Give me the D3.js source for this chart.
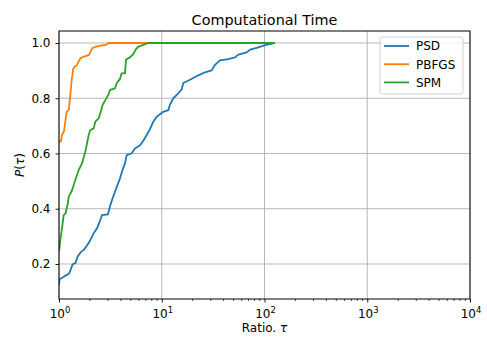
<!DOCTYPE html>
<html>
<head>
<meta charset="utf-8">
<script src="https://cdn.jsdelivr.net/npm/d3@7"></script>
<style>
  html, body { margin: 0; padding: 0; background: #fff; }
  svg { display: block; font-family: "DejaVu Sans", sans-serif; }
</style>
</head>
<body>
<svg id="chart" width="487" height="338"></svg>
<script>
// Performance profile: fraction of problems P(τ) solved within ratio τ of the best time.
const solvers = ["PSD", "PBFGS", "SPM"];
const colors = ["#1f77b4", "#ff7f0e", "#2ca02c"];

const psdTau = [1.0, 1.011, 1.094, 1.157, 1.251, 1.294, 1.353, 1.447, 1.514, 1.619,
  1.751, 1.894, 2.026, 2.167, 2.344, 2.523, 2.621, 2.999, 3.158, 3.377,
  3.643, 3.924, 4.150, 4.388, 4.559, 5.077, 5.491, 6.142, 6.613, 7.137,
  7.685, 8.277, 8.930, 10.35, 11.58, 12.03, 12.96, 14.49, 15.64, 16.21,
  18.83, 22.69, 26.36, 30.63, 32.98, 36.89, 44.44, 51.64, 55.59, 67.11,
  72.27, 84.00, 101.1, 113.1, 126.5];
const psdP = [0.123, 0.145, 0.152, 0.158, 0.165, 0.178, 0.198, 0.204, 0.226, 0.242,
  0.252, 0.270, 0.288, 0.310, 0.329, 0.359, 0.377, 0.380, 0.413, 0.445,
  0.478, 0.510, 0.540, 0.564, 0.594, 0.600, 0.618, 0.630, 0.646, 0.667,
  0.688, 0.715, 0.733, 0.751, 0.757, 0.777, 0.800, 0.818, 0.832, 0.855,
  0.867, 0.883, 0.894, 0.901, 0.921, 0.937, 0.942, 0.948, 0.958, 0.966,
  0.976, 0.982, 0.992, 0.996, 1.0];

const pbfgsTau = [1.0, 1.046, 1.070, 1.118, 1.188, 1.243, 1.280, 1.329, 1.378, 1.431,
  1.487, 1.565, 1.619, 1.732, 1.959, 2.026, 2.096, 2.328, 2.913, 3.018, 126.5];
const pbfgsP = [0.640, 0.645, 0.667, 0.680, 0.751, 0.757, 0.800, 0.866, 0.908, 0.914,
  0.920, 0.935, 0.945, 0.950, 0.957, 0.968, 0.981, 0.988, 0.994, 1.0, 1.0];

const spmTau = [1.0, 1.030, 1.070, 1.111, 1.157, 1.210, 1.243, 1.339, 1.441, 1.555,
  1.674, 1.803, 1.945, 2.017, 2.176, 2.256, 2.434, 2.563, 2.651, 2.822,
  3.018, 3.136, 3.508, 3.643, 3.924, 4.058, 4.388, 4.488, 4.909, 5.286,
  5.553, 5.873, 6.613, 7.398, 126.5];
const spmP = [0.244, 0.287, 0.330, 0.377, 0.383, 0.413, 0.443, 0.467, 0.504, 0.540,
  0.564, 0.606, 0.667, 0.685, 0.691, 0.715, 0.727, 0.755, 0.775, 0.793,
  0.812, 0.830, 0.836, 0.854, 0.870, 0.890, 0.890, 0.940, 0.948, 0.960,
  0.975, 0.986, 0.993, 1.0, 1.0];

const xTicks = [1, 10, 100, 1000, 10000];
const xTickExp = ["0", "1", "2", "3", "4"];
const yTicks = [0.2, 0.4, 0.6, 0.8, 1.0];

const series = [
  { name: solvers[0], color: colors[0], tau: psdTau, p: psdP },
  { name: solvers[1], color: colors[1], tau: pbfgsTau, p: pbfgsP },
  { name: solvers[2], color: colors[2], tau: spmTau, p: spmP }
];

const svg = d3.select("#chart");
const plotL = 59, plotR = 470, plotT = 31, plotB = 299;
const fs = 12;

const x = d3.scaleLog().domain([1, 10000]).range([plotL, plotR]);
const y = d3.scaleLinear().domain([0.0733, 1.0434]).range([plotB, plotT]);

// grid
const grid = svg.append("g").attr("stroke", "#b0b0b0").attr("stroke-width", 0.9);
grid.selectAll("line.gx").data(xTicks).join("line")
  .attr("x1", d => x(d)).attr("x2", d => x(d))
  .attr("y1", plotT).attr("y2", plotB);
grid.selectAll("line.gy").data(yTicks).join("line")
  .attr("x1", plotL).attr("x2", plotR)
  .attr("y1", d => y(d)).attr("y2", d => y(d));

// curves
svg.append("clipPath").attr("id", "plotclip")
  .append("rect").attr("x", plotL).attr("y", plotT)
  .attr("width", plotR - plotL).attr("height", plotB - plotT);

const line = d3.line()
  .x(d => x(d[0]))
  .y(d => y(d[1]));

const plot = svg.append("g").attr("clip-path", "url(#plotclip)");
series.forEach(s => {
  plot.append("path")
    .datum(s.tau.map((t, i) => [t, s.p[i]]))
    .attr("fill", "none")
    .attr("stroke", s.color)
    .attr("stroke-width", 1.8)
    .attr("stroke-linejoin", "round")
    .attr("d", line);
});

// x axis
const xAxis = d3.axisBottom(x)
  .tickValues(xTicks)
  .tickSize(3.5)
  .tickPadding(3.5)
  .tickFormat("");
const xg = svg.append("g").attr("transform", `translate(0,${plotB})`).call(xAxis);
xg.select(".domain").remove();
xg.selectAll(".tick line").attr("stroke", "#000").attr("stroke-width", 0.9);

// minor ticks on the log axis
const minor = [];
for (let e = 0; e < 4; e++) for (let m = 2; m <= 9; m++) minor.push(m * Math.pow(10, e));
svg.append("g").selectAll("line").data(minor).join("line")
  .attr("x1", d => x(d)).attr("x2", d => x(d))
  .attr("y1", plotB).attr("y2", plotB + 2)
  .attr("stroke", "#000").attr("stroke-width", 0.7);

// x tick labels as powers of ten
const xl = svg.append("g").attr("font-size", fs).attr("fill", "#000");
xTicks.forEach((t, i) => {
  const txt = xl.append("text")
    .attr("x", x(t) + 1)
    .attr("y", 317.5)
    .attr("text-anchor", "middle");
  txt.append("tspan").text("10");
  txt.append("tspan").attr("font-size", 8.4).attr("dy", -5).text(xTickExp[i]);
});

// y axis
const yAxis = d3.axisLeft(y)
  .tickValues(yTicks)
  .tickSize(3.5)
  .tickPadding(5)
  .tickFormat(d3.format(".1f"));
const yg = svg.append("g").attr("transform", `translate(${plotL},0)`).call(yAxis);
yg.select(".domain").remove();
yg.selectAll(".tick line").attr("stroke", "#000").attr("stroke-width", 0.9);
yg.selectAll(".tick text")
  .attr("font-size", fs)
  .attr("font-family", "DejaVu Sans, sans-serif")
  .attr("fill", "#000");

// frame
svg.append("rect")
  .attr("x", plotL).attr("y", plotT)
  .attr("width", plotR - plotL).attr("height", plotB - plotT)
  .attr("fill", "none").attr("stroke", "#000").attr("stroke-width", 1);

// title and axis labels
svg.append("text")
  .attr("x", (plotL + plotR) / 2).attr("y", 24.5)
  .attr("text-anchor", "middle")
  .attr("font-size", 14.4)
  .text("Computational Time");

const xlab = svg.append("text")
  .attr("x", (plotL + plotR) / 2).attr("y", 332)
  .attr("text-anchor", "middle")
  .attr("font-size", fs);
xlab.append("tspan").text("Ratio. ");
xlab.append("tspan").attr("font-style", "italic").text("τ");

const ylab = svg.append("text")
  .attr("transform", `translate(24,${(plotT + plotB) / 2}) rotate(-90)`)
  .attr("text-anchor", "middle")
  .attr("font-size", fs);
ylab.append("tspan").attr("font-style", "italic").text("P");
ylab.append("tspan").text("(");
ylab.append("tspan").attr("font-style", "italic").text("τ");
ylab.append("tspan").text(")");

// legend
const lg = svg.append("g");
lg.append("rect")
  .attr("x", 380).attr("y", 37).attr("width", 83).attr("height", 57)
  .attr("rx", 2.5)
  .attr("fill", "#fff").attr("fill-opacity", 0.8)
  .attr("stroke", "#cccccc").attr("stroke-width", 0.9);
series.forEach((s, i) => {
  const ly = 46 + i * 18.2;
  lg.append("line")
    .attr("x1", 384).attr("x2", 409)
    .attr("y1", ly).attr("y2", ly)
    .attr("stroke", s.color).attr("stroke-width", 1.8);
  lg.append("text")
    .attr("x", 416).attr("y", ly + 4.3)
    .attr("font-size", fs)
    .text(s.name);
});
</script>
</body>
</html>
